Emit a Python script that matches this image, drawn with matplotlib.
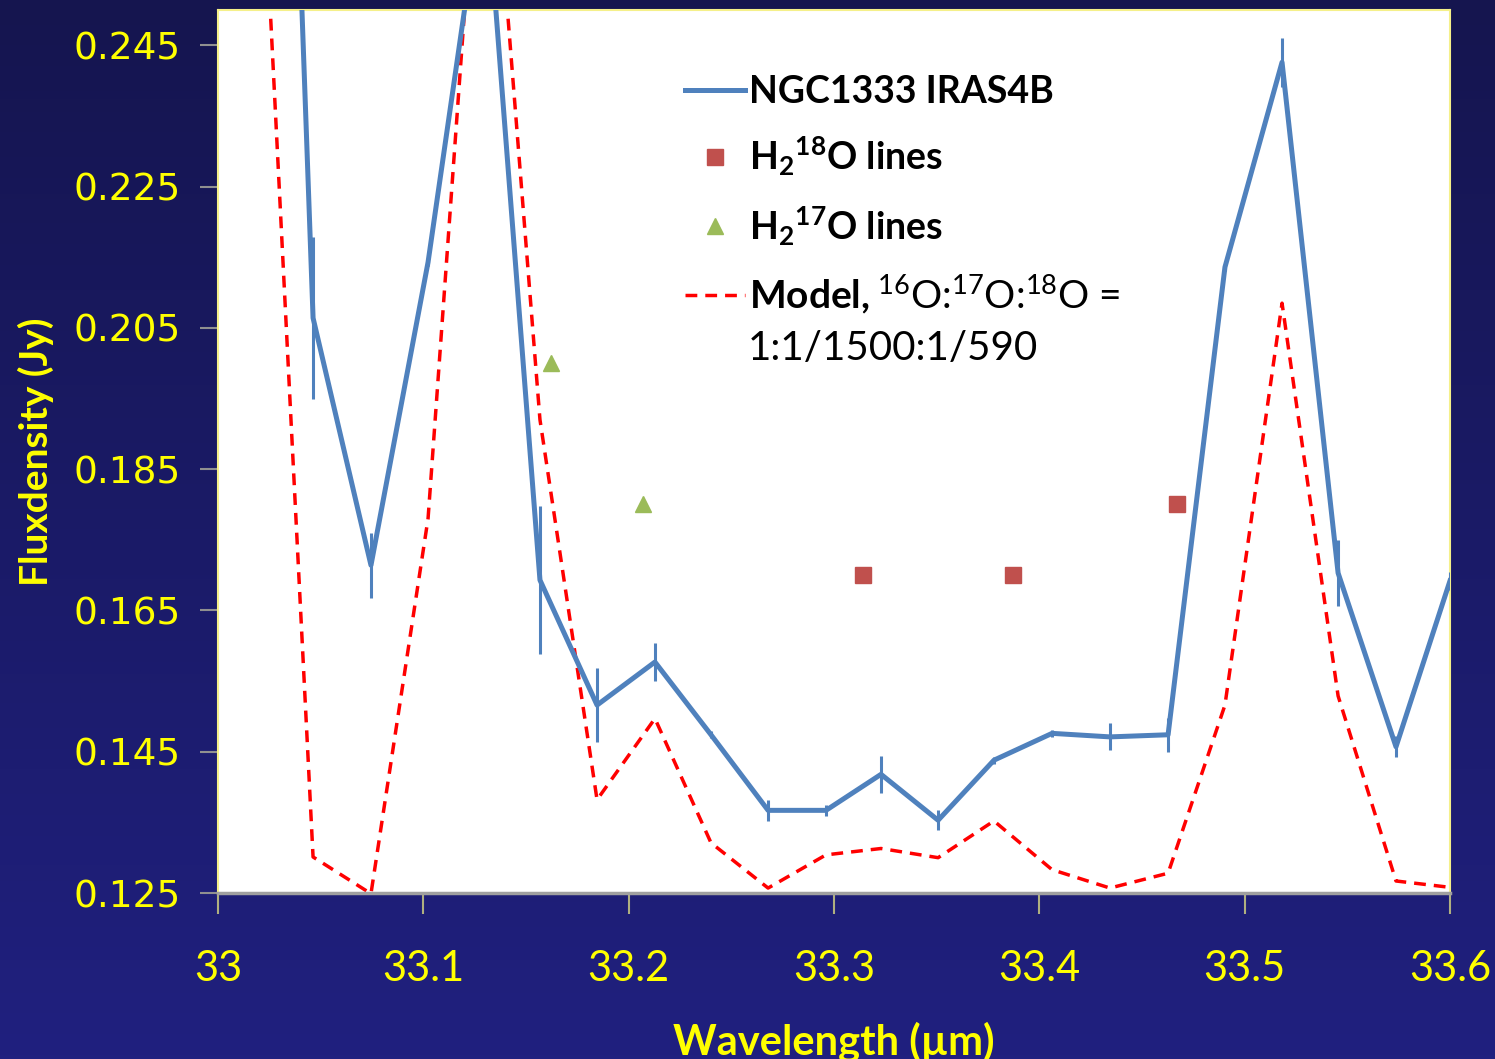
import matplotlib
matplotlib.use('Agg')
import matplotlib.pyplot as plt
import numpy as np
from matplotlib.colors import LinearSegmentedColormap

# observed spectrum (NGC1333 IRAS4B)
wl_obs = [33.0185, 33.0463, 33.0745, 33.1023, 33.1300, 33.1568, 33.1846, 33.2128,
          33.2401, 33.2679, 33.2961, 33.3229, 33.3507, 33.3779, 33.4062, 33.4344,
          33.4627, 33.4904, 33.5182, 33.5455, 33.5737, 33.6000]
flux_obs = [0.430, 0.2064, 0.1714, 0.2143, 0.270, 0.1693, 0.1516, 0.1577,
            0.1474, 0.1367, 0.1367, 0.1418, 0.1353, 0.1438, 0.1476, 0.1471,
            0.1474, 0.2136, 0.2426, 0.1703, 0.1457, 0.1692]
err_obs = [0.0, 0.0115, 0.0046, 0.0005, 0.0, 0.0105, 0.0052, 0.0027,
           0.0005, 0.0015, 0.0008, 0.0026, 0.0014, 0.0005, 0.0005, 0.0019,
           0.0024, 0.0005, 0.0035, 0.0047, 0.0015, 0.0013]

# model, 16O:17O:18O = 1:1/1500:1/590
flux_mod = [0.290, 0.1301, 0.1249, 0.178, 0.290, 0.192, 0.1382, 0.1497,
            0.1321, 0.1257, 0.1304, 0.1313, 0.1300, 0.1352, 0.1283, 0.1257,
            0.1278, 0.1516, 0.2085, 0.1529, 0.1267, 0.1258]

# line positions
wl_h218o = [33.314, 33.387, 33.467]
y_h218o = [0.170, 0.170, 0.180]
wl_h217o = [33.162, 33.207]
y_h217o = [0.200, 0.180]

xticks = [33, 33.1, 33.2, 33.3, 33.4, 33.5, 33.6]
xticklabels = ['33', '33.1', '33.2', '33.3', '33.4', '33.5', '33.6']
yticks = [0.125, 0.145, 0.165, 0.185, 0.205, 0.225, 0.245]

plt.rcParams['mathtext.default'] = 'regular'
plt.rcParams['mathtext.fontset'] = 'custom'
plt.rcParams['mathtext.bf'] = 'Lato:bold'
plt.rcParams['mathtext.rm'] = 'Lato'

YELLOW = '#FFFF00'
BLUE = '#4F81BD'

fig = plt.figure(figsize=(14.95, 10.59), dpi=100)

# dark blue gradient background
bg = fig.add_axes([0, 0, 1, 1], zorder=-10)
grad = np.linspace(0, 1, 256).reshape(-1, 1)
cmap = LinearSegmentedColormap.from_list('bg', ['#15154F', '#20207F'])
bg.imshow(grad, aspect='auto', cmap=cmap, extent=[0, 1, 0, 1])
bg.axis('off')

ax = fig.add_axes([218 / 1495, 1 - 893 / 1059, (1450 - 218) / 1495, (893 - 10) / 1059])
ax.set_facecolor('white')

h_obs, = ax.plot(wl_obs, flux_obs, color=BLUE, lw=3.6, label='NGC1333 IRAS4B', zorder=3)
ax.errorbar(wl_obs, flux_obs, yerr=err_obs, fmt='none', ecolor=BLUE,
            elinewidth=2.2, capsize=0, zorder=3)
h18, = ax.plot(wl_h218o, y_h218o, 's', color='#C0504D', ms=11, ls='none',
               label=r'H$_2$$^{18}$O lines', zorder=4)
h17, = ax.plot(wl_h217o, y_h217o, '^', color='#9BBB59', ms=12, ls='none',
               label=r'H$_2$$^{17}$O lines', zorder=4)
hmod, = ax.plot(wl_obs, flux_mod, color='#FF0000', lw=2.5, dashes=(3.4, 2.3),
                label=r'$\mathbf{Model,}$$^{16}$O:$^{17}$O:$^{18}$O =', zorder=2)

ax.set_xlim(33, 33.6)
ax.set_ylim(0.125, 0.25)
ax.set_xticks(xticks)
ax.set_xticklabels(xticklabels)
ax.set_yticks(yticks)
ax.set_yticklabels([f'{v:.3f}' for v in yticks])

ax.tick_params(axis='x', colors='#B0B080', length=15, width=1.5, pad=26,
               labelcolor=YELLOW, labelsize=30)
ax.tick_params(axis='y', colors='#909090', length=13, width=1.5, pad=14,
               labelcolor=YELLOW, labelsize=27)
for lab in ax.get_xticklabels():
    lab.set_family('Lato')

for side in ['top', 'right', 'left']:
    ax.spines[side].set_color('#F5F08A')
    ax.spines[side].set_linewidth(1.5)
ax.spines['bottom'].set_color('#A0A0A0')
ax.spines['bottom'].set_linewidth(2.5)

ax.set_xlabel('Wavelength (µm)', color=YELLOW, fontsize=30, fontweight='bold',
              family='Lato', labelpad=24)
ax.set_ylabel('Fluxdensity (Jy)', color=YELLOW, fontsize=28, fontweight='bold',
              family='Lato', labelpad=14)

leg = ax.legend(handles=[h_obs, h18, h17, hmod], loc='upper left',
                bbox_to_anchor=(0.379, 0.926), frameon=False,
                borderpad=0, borderaxespad=0, handlelength=1.6, handletextpad=0.1,
                labelspacing=0.68, prop={'family': 'Lato', 'weight': 'bold', 'size': 27})
for t in leg.get_texts():
    t.set_color('black')
leg.get_texts()[3].set_fontweight('normal')
leg.get_texts()[3].set_fontsize(28)

ax.text(0.430, 0.617, '1:1/1500:1/590', transform=ax.transAxes, fontsize=29,
        family='Lato', color='black', va='center', ha='left')

fig.savefig('out.png', dpi=100, facecolor=fig.get_facecolor())
